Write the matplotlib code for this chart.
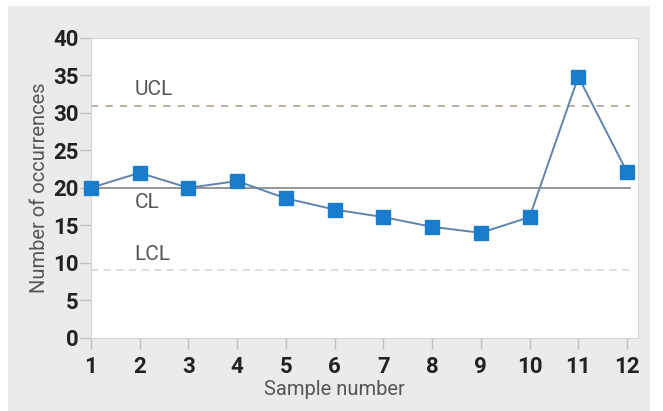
import matplotlib.pyplot as plt
from matplotlib.patches import Rectangle

plt.rcParams['font.family'] = ['Roboto', 'DejaVu Sans']

# control chart data
samples = [1, 2, 3, 4, 5, 6, 7, 8, 9, 10, 11, 12]
occurrences = [20, 22, 20, 20.9, 18.6, 17.1, 16.1, 14.8, 14.0, 16.1, 34.8, 22.1]
ucl = 30.9
cl = 20
lcl = 9.1
y_ticks = [0, 5, 10, 15, 20, 25, 30, 35, 40]

fig = plt.figure(figsize=(6.63, 4.11), dpi=100)
fig.patch.set_facecolor('white')
# gray panel behind the chart
fig.patches.append(Rectangle((0.012, 0.0), 0.968, 0.985, transform=fig.transFigure,
                             facecolor='#ebebeb', edgecolor='none', zorder=-10))

ax = fig.add_axes([0.137, 0.178, 0.825, 0.73])
ax.set_facecolor('white')

# limit lines
ax.axhline(ucl, xmin=0, xmax=0.985, color='#b5a89a', linestyle=(0, (4, 4)), linewidth=1.3)
ax.axhline(cl, xmin=0, xmax=0.985, color='#8c8c8c', linestyle='-', linewidth=1.3)
ax.axhline(lcl, xmin=0, xmax=0.985, color='#dadada', linestyle=(0, (4, 3)), linewidth=1.3)

ax.text(1.9, 31.9, 'UCL', color='#555555', fontsize=15, ha='left', va='bottom')
ax.text(1.9, 19.3, 'CL', color='#555555', fontsize=15, ha='left', va='top')
ax.text(1.9, 9.9, 'LCL', color='#555555', fontsize=15, ha='left', va='bottom')

ax.plot(samples, occurrences, color='#5f84ad', linewidth=1.4,
        marker='s', markersize=10.5, markerfacecolor='#1a7ccc', markeredgecolor='#1a7ccc',
        clip_on=False, zorder=5)

ax.set_xlim(1, 12.22)
ax.set_ylim(0, 40)
ax.set_xticks(samples)
ax.set_yticks(y_ticks)

for side in ['top', 'right', 'left', 'bottom']:
    ax.spines[side].set_color('#d8d8d8')
ax.tick_params(axis='both', colors='#c0c0c0', length=8, width=1, direction='out',
               labelcolor='#222222', labelsize=16)
for lbl in ax.get_xticklabels() + ax.get_yticklabels():
    lbl.set_fontweight('bold')
ax.tick_params(axis='x', pad=5)
ax.tick_params(axis='y', pad=1)

ax.set_xlabel('Sample number', color='#555555', fontsize=14.5)
ax.xaxis.set_label_coords(0.446, -0.14)
ax.set_ylabel('Number of occurrences', color='#555555', fontsize=14.5, labelpad=3)

plt.savefig('out.png', dpi=100)
